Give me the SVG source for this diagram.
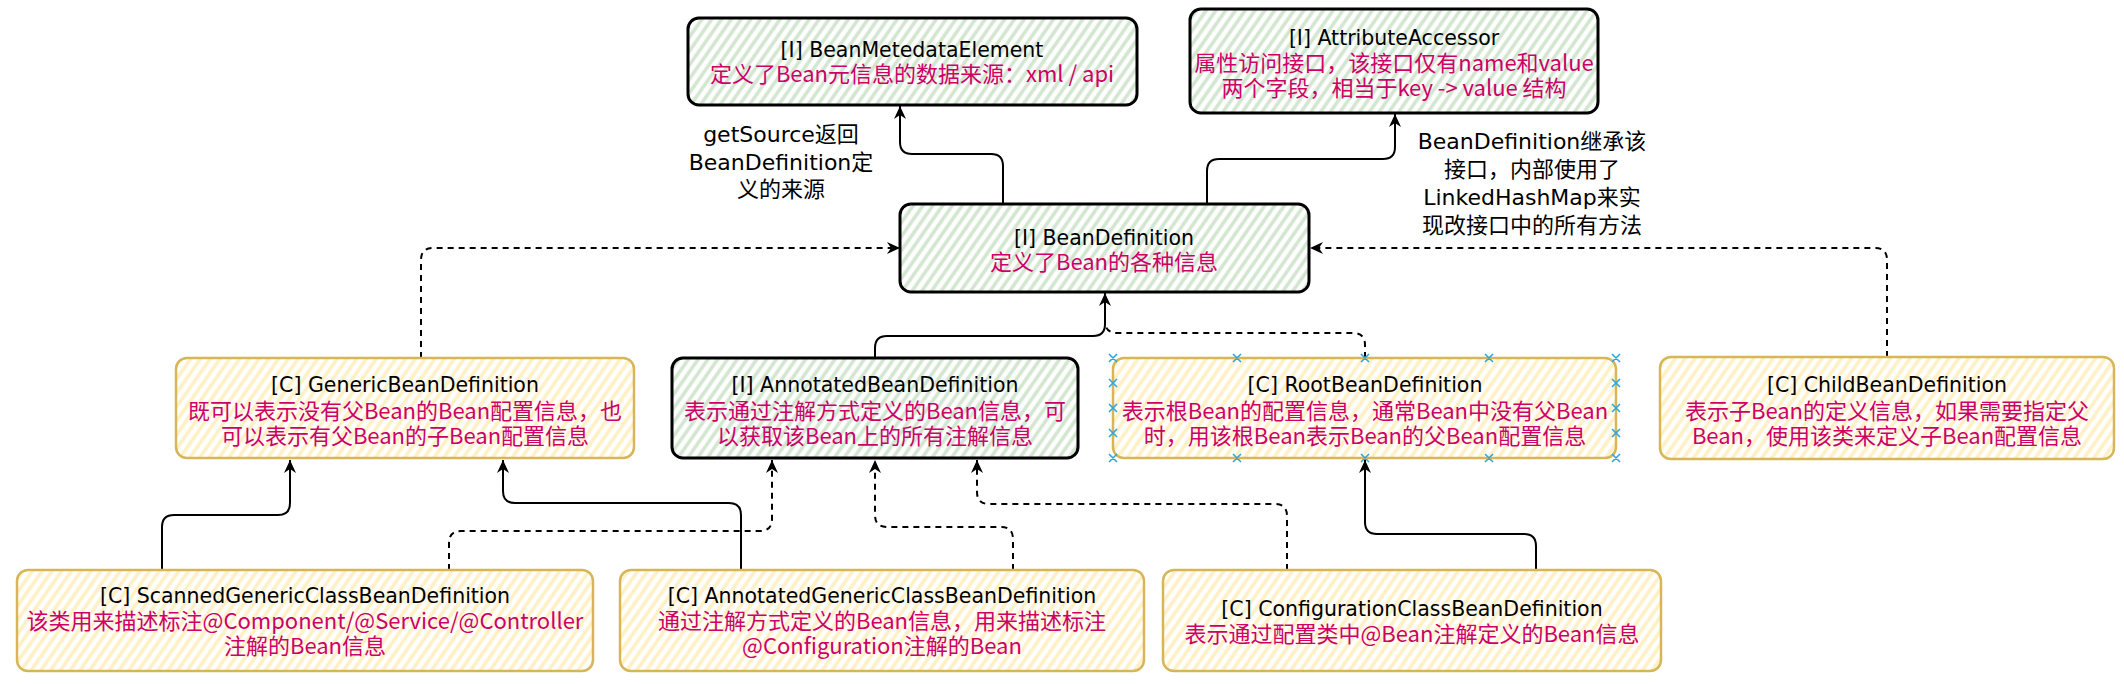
<svg xmlns="http://www.w3.org/2000/svg" width="2124" height="684" viewBox="0 0 2124 684">
<defs>
<pattern id="hg" patternUnits="userSpaceOnUse" width="8" height="8" patternTransform="rotate(35)">
<rect width="8" height="8" fill="#ffffff"/>
<line x1="2" y1="0" x2="2" y2="8" stroke="#d2e6cf" stroke-width="3.5"/>
</pattern>
<pattern id="hy" patternUnits="userSpaceOnUse" width="8" height="8" patternTransform="rotate(35)">
<rect width="8" height="8" fill="#ffffff"/>
<line x1="2" y1="0" x2="2" y2="8" stroke="#fff0c4" stroke-width="3.5"/>
</pattern>
<marker id="arr" markerUnits="userSpaceOnUse" markerWidth="14" markerHeight="12" refX="13" refY="6" orient="auto">
<path d="M0,0 L13,6 L0,12 L4,6 Z" fill="#000"/>
</marker>
</defs>
<style>
.g{fill:url(#hg);stroke:#000;stroke-width:3}
.y{fill:url(#hy);stroke:#d6b656;stroke-width:2.5}
.t{font-family:'DejaVu Sans','Noto Sans CJK SC',sans-serif;font-size:20.5px;fill:#000}
.r{font-family:'Noto Sans CJK SC',sans-serif;font-size:22px;fill:#cc0066}
.l{font-family:'DejaVu Sans','Noto Sans CJK SC',sans-serif;font-size:22px;fill:#000;text-anchor:middle}
text{text-anchor:middle}
.c{fill:none;stroke:#000;stroke-width:2}
.d{fill:none;stroke:#000;stroke-width:2;stroke-dasharray:6 5}
.x{stroke:#29a8e0;stroke-width:1.6}
</style>

<g id="connectors">
<path class="c" d="M1003 204 V166 Q1003 154 991 154 H912 Q900 154 900 142 V106" marker-end="url(#arr)"/>
<path class="c" d="M1207 204 V171 Q1207 159 1219 159 H1383 Q1395 159 1395 147 V114" marker-end="url(#arr)"/>
<path class="d" d="M421 358 V260 Q421 248 433 248 H900" marker-end="url(#arr)"/>
<path class="d" d="M1887 357 V260 Q1887 248 1875 248 H1310" marker-end="url(#arr)"/>
<path class="c" d="M875 358 V348 Q875 336 887 336 H1093 Q1105 336 1105 324 V293" marker-end="url(#arr)"/>
<path class="d" d="M1365 358 V345 Q1365 333 1353 333 H1117 Q1105 333 1105 321"/>
<path class="c" d="M162 570 V527 Q162 515 174 515 H278 Q290 515 290 503 V460" marker-end="url(#arr)"/>
<path class="c" d="M741 570 V515 Q741 503 729 503 H515 Q503 503 503 491 V460" marker-end="url(#arr)"/>
<path class="d" d="M449 570 V543 Q449 531 461 531 H760 Q772 531 772 519 V460" marker-end="url(#arr)"/>
<path class="d" d="M1013 570 V539 Q1013 527 1001 527 H887 Q875 527 875 515 V460" marker-end="url(#arr)"/>
<path class="d" d="M1287 570 V516 Q1287 504 1275 504 H989 Q977 504 977 492 V460" marker-end="url(#arr)"/>
<path class="c" d="M1536 570 V546 Q1536 534 1524 534 H1377 Q1365 534 1365 522 V460" marker-end="url(#arr)"/>
</g>

<g id="BeanMetedataElement">
<rect class="g" x="688" y="18" width="449" height="87" rx="11"/>
<text><tspan class="t" x="912" y="57">[I] BeanMetedataElement</tspan><tspan class="r" x="912" y="82">定义了Bean元信息的数据来源：xml / api</tspan></text>
</g>

<g id="AttributeAccessor">
<rect class="g" x="1190" y="9" width="408" height="104" rx="11"/>
<text><tspan class="t" x="1394" y="45">[I] AttributeAccessor</tspan><tspan class="r" x="1394" y="71">属性访问接口，该接口仅有name和value</tspan><tspan class="r" x="1394" y="96">两个字段，相当于key -&gt; value 结构</tspan></text>
</g>

<g id="BeanDefinition">
<rect class="g" x="900" y="204" width="409" height="88" rx="11"/>
<text><tspan class="t" x="1104" y="245">[I] BeanDefinition</tspan><tspan class="r" x="1104" y="270">定义了Bean的各种信息</tspan></text>
</g>

<g id="label-getSource">
<text class="l"><tspan x="781" y="142">getSource返回</tspan><tspan x="781" y="170">BeanDefinition定</tspan><tspan x="781" y="197">义的来源</tspan></text>
</g>

<g id="label-inherit">
<text class="l"><tspan x="1532" y="149">BeanDefinition继承该</tspan><tspan x="1532" y="177">接口，内部使用了</tspan><tspan x="1532" y="205">LinkedHashMap来实</tspan><tspan x="1532" y="233">现改接口中的所有方法</tspan></text>
</g>

<g id="GenericBeanDefinition">
<rect class="y" x="176" y="358" width="458" height="100" rx="11"/>
<text><tspan class="t" x="405" y="392">[C] GenericBeanDefinition</tspan><tspan class="r" x="405" y="419">既可以表示没有父Bean的Bean配置信息，也</tspan><tspan class="r" x="405" y="444">可以表示有父Bean的子Bean配置信息</tspan></text>
</g>

<g id="AnnotatedBeanDefinition">
<rect class="g" x="672" y="358" width="406" height="100" rx="11"/>
<text><tspan class="t" x="875" y="392">[I] AnnotatedBeanDefinition</tspan><tspan class="r" x="875" y="419">表示通过注解方式定义的Bean信息，可</tspan><tspan class="r" x="875" y="444">以获取该Bean上的所有注解信息</tspan></text>
</g>

<g id="RootBeanDefinition">
<rect class="y" x="1113" y="358" width="503" height="100" rx="11"/>
<text><tspan class="t" x="1365" y="392">[C] RootBeanDefinition</tspan><tspan class="r" x="1365" y="419">表示根Bean的配置信息，通常Bean中没有父Bean</tspan><tspan class="r" x="1365" y="444">时，用该根Bean表示Bean的父Bean配置信息</tspan></text>
<g class="x">
<path d="M1109 354 l8 8 m0 -8 l-8 8 M1233 354 l8 8 m0 -8 l-8 8 M1361 354 l8 8 m0 -8 l-8 8 M1485 354 l8 8 m0 -8 l-8 8 M1612 354 l8 8 m0 -8 l-8 8"/>
<path d="M1109 454 l8 8 m0 -8 l-8 8 M1233 454 l8 8 m0 -8 l-8 8 M1361 454 l8 8 m0 -8 l-8 8 M1485 454 l8 8 m0 -8 l-8 8 M1612 454 l8 8 m0 -8 l-8 8"/>
<path d="M1109 379 l8 8 m0 -8 l-8 8 M1109 404 l8 8 m0 -8 l-8 8 M1109 429 l8 8 m0 -8 l-8 8"/>
<path d="M1612 379 l8 8 m0 -8 l-8 8 M1612 404 l8 8 m0 -8 l-8 8 M1612 429 l8 8 m0 -8 l-8 8"/>
</g>
</g>

<g id="ChildBeanDefinition">
<rect class="y" x="1660" y="357" width="454" height="102" rx="11"/>
<text><tspan class="t" x="1887" y="392">[C] ChildBeanDefinition</tspan><tspan class="r" x="1887" y="419">表示子Bean的定义信息，如果需要指定父</tspan><tspan class="r" x="1887" y="444">Bean，使用该类来定义子Bean配置信息</tspan></text>
</g>

<g id="ScannedGenericClassBeanDefinition">
<rect class="y" x="17" y="570" width="576" height="101" rx="11"/>
<text><tspan class="t" x="305" y="603">[C] ScannedGenericClassBeanDefinition</tspan><tspan class="r" x="305" y="629">该类用来描述标注@Component/@Service/@Controller</tspan><tspan class="r" x="305" y="654">注解的Bean信息</tspan></text>
</g>

<g id="AnnotatedGenericClassBeanDefinition">
<rect class="y" x="620" y="570" width="524" height="101" rx="11"/>
<text><tspan class="t" x="882" y="603">[C] AnnotatedGenericClassBeanDefinition</tspan><tspan class="r" x="882" y="629">通过注解方式定义的Bean信息，用来描述标注</tspan><tspan class="r" x="882" y="654">@Configuration注解的Bean</tspan></text>
</g>

<g id="ConfigurationClassBeanDefinition">
<rect class="y" x="1163" y="570" width="498" height="101" rx="11"/>
<text><tspan class="t" x="1412" y="616">[C] ConfigurationClassBeanDefinition</tspan><tspan class="r" x="1412" y="642">表示通过配置类中@Bean注解定义的Bean信息</tspan></text>
</g>
</svg>
